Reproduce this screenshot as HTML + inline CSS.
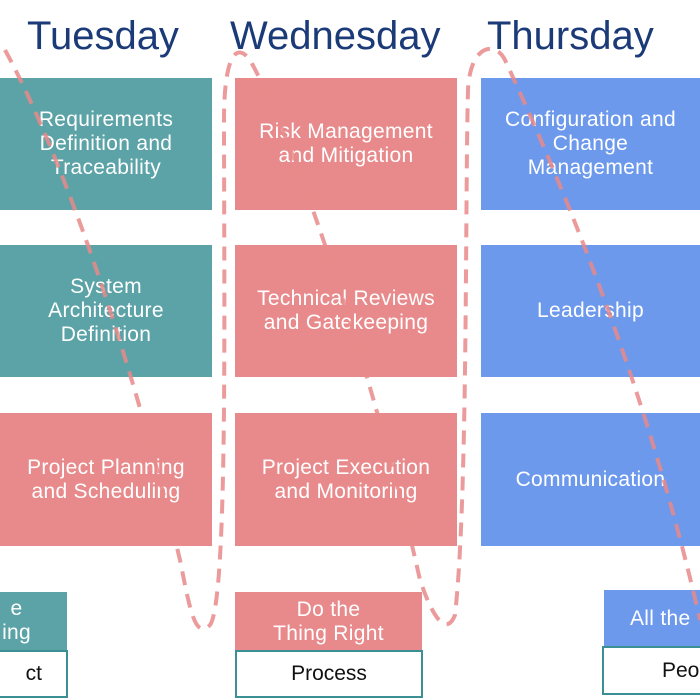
<!DOCTYPE html>
<html><head><style>
body{margin:0;width:700px;height:700px;background:#fff;overflow:hidden;position:relative;font-family:"Liberation Sans",sans-serif}
.b{position:absolute;color:#fff;display:flex;align-items:center;justify-content:center;text-align:center;font-size:21px;line-height:24px;letter-spacing:.3px}
.t{background:#5ba3a7}.p{background:#e88a8b}.u{background:#6c99ec}
.h{position:absolute;top:14px;font-size:40px;color:#1b3a78;font-weight:normal}
.w{position:absolute;background:#fff;border:2px solid #3b8f95;box-sizing:border-box;display:flex;align-items:center;justify-content:center;font-size:21px;color:#111}
</style></head><body>
<div class="h" style="left:27px">Tuesday</div>
<div class="h" style="left:230px">Wednesday</div>
<div class="h" style="left:487px">Thursday</div>
<div class="b t" style="left:0;top:78px;width:212px;height:132px">Requirements<br>Definition and<br>Traceability</div>
<div class="b t" style="left:0;top:245px;width:212px;height:132px">System<br>Architecture<br>Definition</div>
<div class="b p" style="left:0;top:413px;width:212px;height:133px">Project Planning<br>and Scheduling</div>
<div class="b p" style="left:235px;top:78px;width:222px;height:132px">Risk Management<br>and Mitigation</div>
<div class="b p" style="left:235px;top:245px;width:222px;height:132px">Technical Reviews<br>and Gatekeeping</div>
<div class="b p" style="left:235px;top:413px;width:222px;height:133px">Project Execution<br>and Monitoring</div>
<div class="b u" style="left:481px;top:78px;width:219px;height:132px">Configuration and<br>Change<br>Management</div>
<div class="b u" style="left:481px;top:245px;width:219px;height:132px">Leadership</div>
<div class="b u" style="left:481px;top:413px;width:219px;height:133px">Communication</div>
<div class="b t" style="left:-40px;top:592px;width:107px;height:58px;justify-content:flex-end;padding-right:36px;box-sizing:border-box">e<br>ing</div>
<div class="w" style="left:-40px;top:650px;width:108px;height:48px;justify-content:flex-end;padding-right:24px">ct</div>
<div class="b p" style="left:235px;top:592px;width:187px;height:59px">Do the<br>Thing Right</div>
<div class="w" style="left:235px;top:650px;width:188px;height:48px">Process</div>
<div class="b u" style="left:604px;top:590px;width:110px;height:57px;justify-content:flex-start;padding-left:26px;box-sizing:border-box">All the</div>
<div class="w" style="left:602px;top:646px;width:110px;height:49px;justify-content:flex-start;padding-left:58px">Peo</div>
<svg width="700" height="700" style="position:absolute;left:0;top:0" fill="none">
<path d="M5 50 C60 150 130 350 180 560 C190 610 195 640 210 625 C228 600 224 300 224 120 C224 60 235 40 250 60 C300 150 380 400 420 580 C430 610 445 640 455 615 C468 500 465 200 468 90 C470 45 495 40 505 60 C570 200 650 400 700 620" stroke="#e8898a" stroke-opacity="0.85" stroke-width="4" stroke-dasharray="14 9"/>
</svg>
</body></html>
